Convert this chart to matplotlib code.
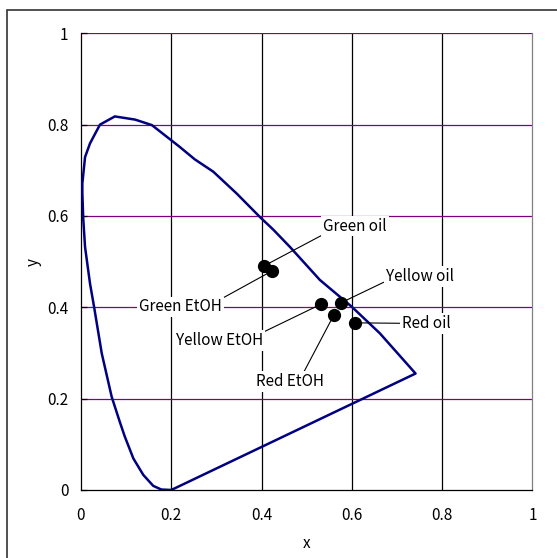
import matplotlib
matplotlib.use('Agg')
import matplotlib.pyplot as plt
from matplotlib.patches import Rectangle

plt.rcParams['font.family'] = ['Noto Sans CJK JP', 'DejaVu Sans']

# spectral locus (x, y chromaticity), from the violet end up and round to the red corner
locus_x = [0.200, 0.178, 0.160, 0.138, 0.116, 0.097, 0.086, 0.068, 0.046, 0.029,
           0.020, 0.009, 0.005, 0.003, 0.003, 0.009, 0.020, 0.042, 0.075, 0.120,
           0.157, 0.201, 0.219, 0.252, 0.293, 0.345, 0.396, 0.426, 0.463, 0.529,
           0.600, 0.662, 0.741]
locus_y = [0.000, 0.001, 0.009, 0.033, 0.069, 0.117, 0.149, 0.204, 0.299, 0.401,
           0.452, 0.532, 0.594, 0.650, 0.671, 0.729, 0.759, 0.800, 0.818, 0.811,
           0.799, 0.765, 0.751, 0.724, 0.697, 0.649, 0.598, 0.570, 0.532, 0.460,
           0.401, 0.343, 0.255]

# measured samples
samples = ['Green oil', 'Green EtOH', 'Yellow oil', 'Yellow EtOH', 'Red oil', 'Red EtOH']
sample_x = [0.406, 0.422, 0.576, 0.532, 0.607, 0.560]
sample_y = [0.491, 0.479, 0.410, 0.407, 0.366, 0.383]

ticks = [0, 0.2, 0.4, 0.6, 0.8, 1]
tick_labels = ['0', '0.2', '0.4', '0.6', '0.8', '1']

# where each label sits and which corner of its box the leader starts from
label_pos = [(0.607, 0.578), (0.221, 0.401), (0.750, 0.468),
             (0.307, 0.327), (0.764, 0.365), (0.462, 0.237)]
leader_from = [(0, 0), (1, 1), (0, 0.2), (1, 1), (0, 0.5), (0.7, 1)]

fig = plt.figure(figsize=(5.57, 5.58), dpi=100)
ax = fig.add_axes([0.1454, 0.1219, 0.8106, 0.8184])

ax.set_xlim(0, 1)
ax.set_ylim(0, 1)

# grid: vertical lines black, horizontal lines purple
for t in ticks[1:-1]:
    ax.axvline(t, color='black', lw=0.9, zorder=1)
for t in ticks[1:]:
    ax.axhline(t, color='#800080', lw=0.9, zorder=1)

ax.spines['left'].set_color('black')
ax.spines['bottom'].set_color('black')
ax.spines['right'].set_color('#808080')
ax.spines['top'].set_visible(False)
for s in ax.spines.values():
    s.set_linewidth(0.9)

ax.set_xticks(ticks)
ax.set_yticks(ticks)
ax.set_xticklabels(tick_labels)
ax.set_yticklabels(tick_labels)
ax.tick_params(axis='x', direction='in', length=0, pad=12, labelsize=11)
ax.tick_params(axis='y', direction='in', length=4, width=0.9, pad=9, labelsize=11)

ax.set_xlabel('x', fontsize=11, labelpad=8)
ax.set_ylabel('y', fontsize=11, labelpad=4)

# locus closed with the line of purples
ax.plot(locus_x + locus_x[:1], locus_y + locus_y[:1], color='#000080', lw=1.8, zorder=3)

ax.plot(sample_x, sample_y, 'o', color='black', ms=8.5, zorder=5)

for name, px, py, pos, rel in zip(samples, sample_x, sample_y, label_pos, leader_from):
    ax.annotate(name, xy=(px, py), xytext=pos, textcoords='data',
                ha='center', va='center', fontsize=11, zorder=4,
                bbox=dict(boxstyle='square,pad=0.12', facecolor='white', edgecolor='none'),
                arrowprops=dict(arrowstyle='-', color='black', lw=0.8,
                                relpos=rel, shrinkA=0, shrinkB=4))

# outer frame
fig.patches.append(Rectangle((7 / 557, -0.01), 1.0, 1 - 10 / 558 + 0.01, fill=False,
                             transform=fig.transFigure, edgecolor='#333333', linewidth=1.2))

plt.savefig('out.png', dpi=100)
